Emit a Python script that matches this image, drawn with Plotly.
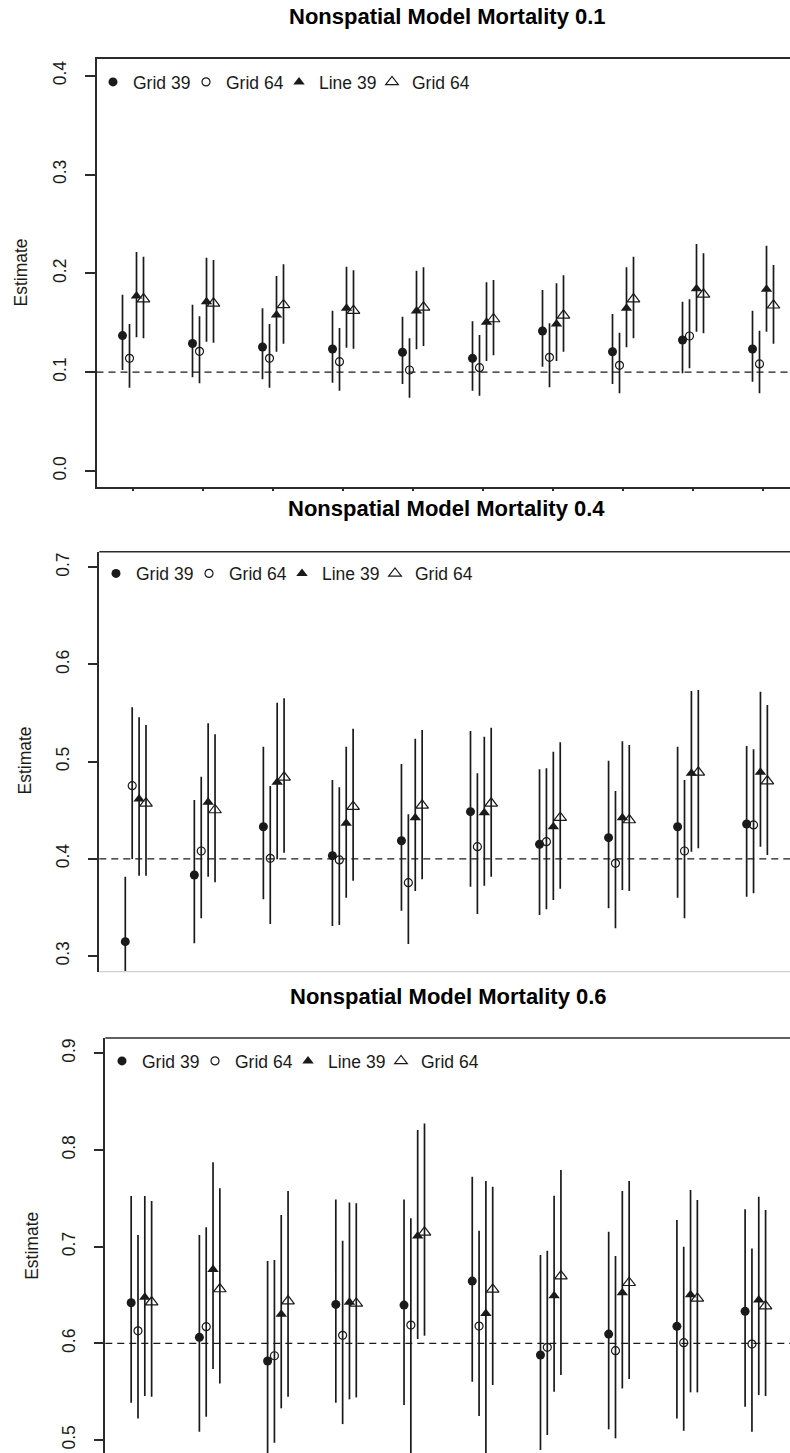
import plotly.graph_objects as go

W, H = 790, 1453

groups = list(range(1, 11))
series_names = ["Grid 39", "Grid 64", "Line 39", "Grid 64"]
series_offsets = [-0.15, -0.05, 0.05, 0.15]

titles = ["Nonspatial Model Mortality 0.1",
          "Nonspatial Model Mortality 0.4",
          "Nonspatial Model Mortality 0.6"]
true_values = [0.1, 0.4, 0.6]

p1_ticks = [0.0, 0.1, 0.2, 0.3, 0.4]
p2_ticks = [0.3, 0.4, 0.5, 0.6, 0.7]
p3_ticks = [0.5, 0.6, 0.7, 0.8, 0.9]

# ---------------- Panel 1 (mortality 0.1) ----------------
p1_grid39_est = [0.137, 0.129, 0.1255, 0.1234, 0.1201, 0.114, 0.1417, 0.1207, 0.1325, 0.1234]
p1_grid39_lo = [0.1022, 0.0948, 0.0928, 0.0893, 0.088, 0.0813, 0.1055, 0.088, 0.0988, 0.0904]
p1_grid39_hi = [0.1784, 0.1683, 0.1646, 0.1622, 0.1561, 0.1515, 0.1831, 0.1589, 0.1713, 0.1622]
p1_grid64_est = [0.114, 0.1211, 0.114, 0.1106, 0.1022, 0.1045, 0.115, 0.1069, 0.1366, 0.1083]
p1_grid64_lo = [0.0843, 0.0887, 0.0843, 0.0813, 0.0742, 0.0762, 0.0847, 0.0786, 0.1039, 0.0786]
p1_grid64_hi = [0.1487, 0.1565, 0.1487, 0.1447, 0.1343, 0.1376, 0.1494, 0.1399, 0.1737, 0.142]
p1_line39_est = [0.1771, 0.1713, 0.1578, 0.1646, 0.1619, 0.1505, 0.1487, 0.1646, 0.1845, 0.1838]
p1_line39_lo = [0.1353, 0.1308, 0.1207, 0.1248, 0.1231, 0.1113, 0.1113, 0.1251, 0.141, 0.141]
p1_line39_hi = [0.2216, 0.2158, 0.1973, 0.2067, 0.2027, 0.1909, 0.1899, 0.2061, 0.2297, 0.228]
p1_line64_est = [0.174, 0.1697, 0.168, 0.1622, 0.1656, 0.1538, 0.1575, 0.174, 0.1788, 0.1677]
p1_line64_lo = [0.1343, 0.1298, 0.1288, 0.1238, 0.1265, 0.1171, 0.1207, 0.1343, 0.1393, 0.1288]
p1_line64_hi = [0.2168, 0.2135, 0.2091, 0.2031, 0.2061, 0.1933, 0.198, 0.2168, 0.2203, 0.2084]

# ---------------- Panel 2 (mortality 0.4) ----------------
p2_grid39_est = [0.3147, 0.3833, 0.433, 0.4032, 0.4186, 0.4485, 0.4149, 0.4217, 0.433, 0.4358]
p2_grid39_lo = [0.245, 0.3131, 0.3583, 0.3309, 0.3466, 0.3713, 0.3422, 0.3491, 0.36, 0.361]
p2_grid39_hi = [0.3816, 0.4605, 0.5153, 0.4811, 0.4975, 0.5315, 0.4921, 0.5009, 0.5153, 0.516]
p2_grid64_est = [0.4752, 0.408, 0.4005, 0.3988, 0.3754, 0.4125, 0.4176, 0.3953, 0.408, 0.4348]
p2_grid64_lo = [0.3998, 0.3388, 0.3329, 0.3319, 0.3123, 0.3432, 0.348, 0.3285, 0.3388, 0.3645]
p2_grid64_hi = [0.5559, 0.4845, 0.4749, 0.4736, 0.4459, 0.488, 0.4931, 0.4698, 0.4811, 0.5126]
p2_line39_est = [0.4615, 0.4581, 0.4787, 0.4365, 0.4423, 0.4474, 0.433, 0.4423, 0.488, 0.489]
p2_line39_lo = [0.3826, 0.3816, 0.3995, 0.36, 0.3669, 0.3723, 0.3576, 0.3679, 0.4073, 0.4125]
p2_line39_hi = [0.5456, 0.5394, 0.5606, 0.5153, 0.5236, 0.5256, 0.5102, 0.5209, 0.5726, 0.5719]
p2_line64_est = [0.4571, 0.4502, 0.4838, 0.4536, 0.455, 0.4571, 0.4423, 0.4399, 0.489, 0.48]
p2_line64_lo = [0.3826, 0.3758, 0.4063, 0.3775, 0.3789, 0.3816, 0.3692, 0.3669, 0.4108, 0.4039]
p2_line64_hi = [0.5377, 0.5281, 0.5651, 0.5339, 0.5325, 0.5349, 0.5198, 0.5171, 0.5737, 0.5582]

# ---------------- Panel 3 (mortality 0.6) ----------------
p3_grid39_est = [0.642, 0.6062, 0.5817, 0.6403, 0.6396, 0.6644, 0.5879, 0.6096, 0.6176, 0.6331]
p3_grid39_lo = [0.5386, 0.5086, 0.47, 0.5386, 0.5362, 0.5603, 0.4897, 0.5111, 0.5224, 0.5345]
p3_grid39_hi = [0.7523, 0.712, 0.6851, 0.7489, 0.7489, 0.7723, 0.6913, 0.7154, 0.7275, 0.7386]
p3_grid64_est = [0.613, 0.6172, 0.5872, 0.6083, 0.6189, 0.6179, 0.5959, 0.5924, 0.6007, 0.5993]
p3_grid64_lo = [0.5224, 0.5241, 0.4972, 0.5165, 0.47, 0.5248, 0.5052, 0.5018, 0.5096, 0.5086]
p3_grid64_hi = [0.712, 0.72, 0.6861, 0.7061, 0.7293, 0.7164, 0.6958, 0.6903, 0.6999, 0.6982]
p3_line39_est = [0.6476, 0.6765, 0.63, 0.6424, 0.711, 0.631, 0.6493, 0.6524, 0.6503, 0.6448]
p3_line39_lo = [0.5455, 0.5734, 0.5328, 0.5421, 0.6044, 0.47, 0.55, 0.5534, 0.5493, 0.5465]
p3_line39_hi = [0.7523, 0.7872, 0.7327, 0.7458, 0.8206, 0.7678, 0.7527, 0.7575, 0.7585, 0.7516]
p3_line64_est = [0.6427, 0.6562, 0.6437, 0.6413, 0.7148, 0.6558, 0.6696, 0.6627, 0.6465, 0.6386]
p3_line64_lo = [0.5448, 0.5586, 0.5448, 0.5441, 0.6079, 0.5569, 0.5672, 0.5631, 0.5493, 0.5455]
p3_line64_hi = [0.7472, 0.7603, 0.7575, 0.7448, 0.8275, 0.762, 0.7792, 0.7678, 0.7482, 0.7379]

panels = [
    [(p1_grid39_est, p1_grid39_lo, p1_grid39_hi), (p1_grid64_est, p1_grid64_lo, p1_grid64_hi),
     (p1_line39_est, p1_line39_lo, p1_line39_hi), (p1_line64_est, p1_line64_lo, p1_line64_hi)],
    [(p2_grid39_est, p2_grid39_lo, p2_grid39_hi), (p2_grid64_est, p2_grid64_lo, p2_grid64_hi),
     (p2_line39_est, p2_line39_lo, p2_line39_hi), (p2_line64_est, p2_line64_lo, p2_line64_hi)],
    [(p3_grid39_est, p3_grid39_lo, p3_grid39_hi), (p3_grid64_est, p3_grid64_lo, p3_grid64_hi),
     (p3_line39_est, p3_line39_lo, p3_line39_hi), (p3_line64_est, p3_line64_lo, p3_line64_hi)],
]
panel_ticks = [p1_ticks, p2_ticks, p3_ticks]

# ---------------- layout geometry (pixels) ----------------
FONT = "Liberation Sans, Arial, sans-serif"
INK = "#1a1a1a"
FRAME = "#2b2b2b"

geom = [
    dict(left=96.5, top=59.3, bottom=486.7, xr=[0.4786, 10.3857], yr=[-0.0159, 0.4166]),
    dict(left=99.3, top=551.7, bottom=971.7, xr=[0.4735, 10.478], yr=[0.2838, 0.716]),
    dict(left=105.3, top=1038.0, bottom=1453.0, xr=[0.4708, 10.508], yr=[0.4866, 0.9158]),
]
title_pos = [(447.5, 16.0), (446.5, 508.5), (448.0, 996.0)]
ylab_pos = [(20.5, 273.0), (24.5, 761.0), (31.8, 1246.0)]
legend_pos = [(93.0, 82.0), (96.0, 573.5), (102.0, 1061.0)]
legend_widths = [48, 48, 48, 66]

sym = [
    dict(symbol="circle", size=9, color=INK),
    dict(symbol="circle-open", size=8, color=INK, line=dict(width=1.2, color=INK)),
    dict(symbol="triangle-up", size=10, color=INK),
    dict(symbol="triangle-up-open", size=11, color=INK, line=dict(width=1.2, color=INK)),
]

fig = go.Figure()
shapes = []
annotations = []
layout_axes = {}

for p in range(3):
    g = geom[p]
    xa = "x" if p == 0 else f"x{p+1}"
    ya = "y" if p == 0 else f"y{p+1}"
    leg = "legend" if p == 0 else f"legend{p+1}"
    for s in range(4):
        est, lo, hi = panels[p][s]
        fig.add_trace(go.Scatter(
            x=[gr + series_offsets[s] for gr in groups],
            y=est,
            mode="markers",
            name=series_names[s],
            marker=sym[s],
            error_y=dict(type="data", symmetric=False,
                         array=[h - e for h, e in zip(hi, est)],
                         arrayminus=[e - l for e, l in zip(est, lo)],
                         width=0, thickness=1.7, color=INK),
            xaxis=xa, yaxis=ya, legend=leg, showlegend=True, hoverinfo="skip",
            legendwidth=legend_widths[s], cliponaxis=True,
        ))

    dom_x = [g["left"] / W, 1.0]
    dom_y = [1 - g["bottom"] / H, 1 - g["top"] / H]
    xkey = "xaxis" if p == 0 else f"xaxis{p+1}"
    ykey = "yaxis" if p == 0 else f"yaxis{p+1}"
    layout_axes[xkey] = dict(
        domain=dom_x, range=g["xr"], anchor=ya, showgrid=False, zeroline=False,
        showticklabels=False, tickvals=groups,
        ticks="outside" if p == 0 else "", ticklen=2, tickcolor=FRAME, tickwidth=1.5,
        showline=(p == 0), mirror=(p == 0), linecolor=FRAME, linewidth=1.6,
    )
    ticks = panel_ticks[p]
    layout_axes[ykey] = dict(
        domain=dom_y, range=g["yr"], anchor=xa, showgrid=False, zeroline=False,
        tickvals=ticks, ticktext=[f"{t:.1f}" for t in ticks], tickangle=-90,
        ticks="outside", ticklen=10, tickcolor=FRAME, tickwidth=1.5,
        showline=True, linecolor=FRAME, linewidth=1.6,
        tickfont=dict(family=FONT, size=17.5, color=INK), ticklabelstandoff=12,
    )
    shapes.append(dict(type="line", xref=f"{xa} domain", yref=ya, x0=0, x1=1,
                       y0=true_values[p], y1=true_values[p],
                       line=dict(color=INK, width=1.3, dash="7px,5px")))
    if p > 0:
        shapes.append(dict(type="line", xref=f"{xa} domain", yref=f"{ya} domain",
                           x0=0, x1=1, y0=1, y1=1, line=dict(color=FRAME, width=1.6)))
    if p == 1:
        shapes.append(dict(type="line", xref=f"{xa} domain", yref=f"{ya} domain",
                           x0=0, x1=1, y0=0, y1=0, line=dict(color="#cfcfcf", width=1.2)))
    tx, ty = title_pos[p]
    annotations.append(dict(text=f"<b>{titles[p]}</b>", x=tx / W, y=1 - ty / H,
                            xref="paper", yref="paper", xanchor="center", yanchor="middle",
                            showarrow=False, font=dict(family=FONT, size=22, color="black")))
    lx, ly = ylab_pos[p]
    annotations.append(dict(text="Estimate", x=lx / W, y=1 - ly / H, textangle=-90,
                            xref="paper", yref="paper", xanchor="center", yanchor="middle",
                            showarrow=False, font=dict(family=FONT, size=17.5, color=INK)))
    gx, gy = legend_pos[p]
    layout_axes[leg] = dict(
        orientation="h", x=gx / W, xanchor="left", y=1 - gy / H, yanchor="middle",
        bgcolor="rgba(0,0,0,0)", borderwidth=0, itemwidth=30,
        font=dict(family=FONT, size=17.5, color=INK), itemclick=False, itemdoubleclick=False,
    )

fig.update_layout(
    width=W, height=H, template="none",
    margin=dict(l=0, r=0, t=0, b=0, pad=0),
    paper_bgcolor="white", plot_bgcolor="white",
    shapes=shapes, annotations=annotations,
    **layout_axes,
)

fig.write_html("out.html", config={"displayModeBar": False})
